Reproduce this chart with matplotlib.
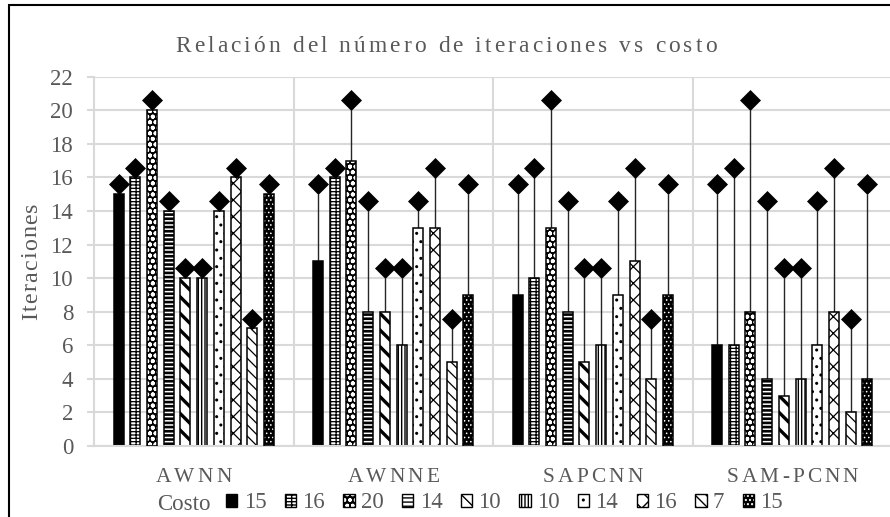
import numpy as np
import matplotlib
matplotlib.use("Agg")
import matplotlib.pyplot as plt
from matplotlib import patches as mpatches, transforms as mtransforms
from matplotlib.font_manager import FontProperties, findfont, get_font
from matplotlib.legend_handler import HandlerTuple

# ---- data -------------------------------------------------------------
groups = ["AWNN", "AWNNE", "SAPCNN", "SAM-PCNN"]
costs = [15, 16, 20, 14, 10, 10, 14, 16, 7, 15]
cost_labels = [str(c) for c in costs]
iter_awnn = [15, 16, 20, 14, 10, 10, 14, 16, 7, 15]
iter_awnne = [11, 16, 17, 8, 8, 6, 13, 13, 5, 9]
iter_sapcnn = [9, 10, 13, 8, 5, 6, 9, 11, 4, 9]
iter_sampcnn = [6, 6, 8, 4, 3, 4, 6, 8, 2, 4]
y_ticks = list(range(0, 23, 2))

title = "Relación del número de iteraciones vs costo"
y_title = "Iteraciones"
legend_title = "Costo"

iterations = [iter_awnn, iter_awnne, iter_sapcnn, iter_sampcnn]

# fill styles for the ten cost series: (face, hatch, hatch colour, hatch lw)
styles = [
    ("black", None, "black", 1.0),
    ("white", "-----|||", "black", 0.9),
    ("black", "ooo", "white", 1.3),
    ("white", "----", "black", 1.9),
    ("white", "\\\\", "black", 2.4),
    ("white", "|||||", "black", 1.0),
    ("white", "..", "black", 1.0),
    ("white", "xx", "black", 0.9),
    ("white", "\\\\\\", "black", 0.9),
    ("black", "....", "white", 0.6),
]

GRAY = "#595959"
GRID = "#d9d9d9"
plt.rcParams["font.family"] = ["Liberation Serif", "DejaVu Serif"]

W, H = 890, 517
fig = plt.figure(figsize=(W / 100, H / 100), dpi=100)
ax_left, ax_right, ax_top, ax_bottom = 94, 892, 76.7, 446
ax = fig.add_axes([ax_left / W, (H - ax_bottom) / H,
                   (ax_right - ax_left) / W, (ax_bottom - ax_top) / H])
ax.set_xlim(-0.5, len(groups) - 0.5)
ax.set_ylim(0, 22)

n = len(costs)
step, bw = 0.0838, 0.05
gx = np.arange(len(groups))
ms = 10
diamond_tr = mtransforms.offset_copy(ax.transData, fig=fig, x=0,
                                     y=0.7071 * ms, units="points")

legend_handles = []
for j in range(n):
    vals = [it[j] for it in iterations]
    xs = gx + (j - (n - 1) / 2) * step
    face, hatch, hcol, hlw = styles[j]
    with plt.rc_context({"hatch.linewidth": hlw}):
        if hcol == "white":
            bars = ax.bar(xs, vals, bw, color=face, edgecolor="white",
                          hatch=hatch, linewidth=0, zorder=2)
            ax.bar(xs, vals, bw, fill=False, edgecolor="black",
                   linewidth=1.1, zorder=3)
            h = (mpatches.Patch(facecolor=face, edgecolor="white", hatch=hatch, lw=0),
                 mpatches.Patch(fill=False, edgecolor="black", lw=1.0))
            hp = [h[0]]
        else:
            bars = ax.bar(xs, vals, bw, color=face, edgecolor="black",
                          hatch=hatch, linewidth=1.1, zorder=2)
            h = mpatches.Patch(facecolor=face, edgecolor="black", hatch=hatch, lw=1.0)
            hp = [h]
    for p in list(bars) + hp:
        if hasattr(p, "set_hatch_linewidth"):
            p.set_hatch_linewidth(hlw)
    legend_handles.append(h)
    ax.vlines(xs, vals, costs[j], color="#262626", lw=1.0, zorder=1.5)
    ax.plot(xs, [costs[j]] * len(xs), "D", ms=ms, color="black", mew=0.5,
            transform=diamond_tr, zorder=4, clip_on=False)

# axes styling
ax.set_yticks(y_ticks)
ax.set_xticks([])
ax.yaxis.grid(True, color=GRID, lw=1.5)
ax.set_axisbelow(True)
for b in np.arange(0.5, len(groups) - 0.5, 1.0):
    ax.axvline(b, color=GRID, lw=1.5, zorder=0.5)
for s in ("top", "right"):
    ax.spines[s].set_visible(False)
for s in ("left", "bottom"):
    ax.spines[s].set_color(GRID)
    ax.spines[s].set_linewidth(1.5)
ax.tick_params(axis="y", direction="out", length=5, width=1.5, color=GRID,
               labelcolor=GRAY, labelsize=16.5, pad=10)

# outer chart border
fig.add_artist(mpatches.Rectangle((9 / W, -0.05), 1.2, (H - 5) / H + 0.05,
                                  transform=fig.transFigure, fill=False,
                                  edgecolor="black", lw=1.5, clip_on=False))


def spaced_text(s, x, y, size, spacing, vertical=False, color=GRAY):
    """Draw text with extra letter spacing; x, y in pixels from top-left,
    centred along the writing direction, y (or x if vertical) is the baseline."""
    prop = FontProperties(family="Liberation Serif", size=size)
    font = get_font(findfont(prop))
    font.set_size(size, fig.dpi)
    adv = [font.load_char(ord(c)).linearHoriAdvance / 65536 for c in s]
    total = sum(adv) + spacing * (len(s) - 1)
    pos = -total / 2
    for c, a in zip(s, adv):
        mid = pos + a / 2
        if c != " ":
            if vertical:
                fig.text(x / W, (H - y + mid) / H, c, fontproperties=prop,
                         color=color, rotation=90, rotation_mode="anchor",
                         ha="center", va="baseline")
            else:
                fig.text((x + mid) / W, (H - y) / H, c, fontproperties=prop,
                         color=color, ha="center", va="baseline")
        pos += a + spacing


spaced_text(title, 446, 52, 16.8, 3.1)
spaced_text(y_title, 36.7, 261.5, 17.3, 1.2, vertical=True)
for i, g in enumerate(groups):
    cx = ax_left + (i + 0.5) * (ax_right - ax_left) / len(groups)
    spaced_text(g, cx, 482, 15.4, 3.0)

# legend row
fig.text(157 / W, (H - 510) / H, legend_title, fontsize=16.5, color=GRAY,
         ha="left", va="baseline")
fig.legend(legend_handles, cost_labels, loc="center left",
           bbox_to_anchor=(226 / W, (H - 503) / H),
           bbox_transform=fig.transFigure, ncol=n, frameon=False,
           fontsize=16.5, labelcolor=GRAY, borderpad=0, borderaxespad=0,
           handlelength=0.5, handleheight=0.5, handletextpad=0.27,
           columnspacing=0.8,
           handler_map={tuple: HandlerTuple(ndivide=1, pad=0)})

fig.savefig("out.png", dpi=100)
